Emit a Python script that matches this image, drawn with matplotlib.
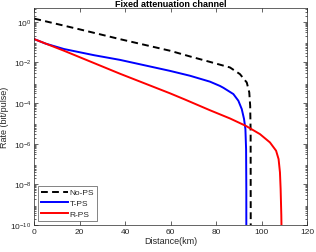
import numpy as np
import matplotlib
matplotlib.use('Agg')
from matplotlib import pyplot as plt
from matplotlib.ticker import LogLocator, NullFormatter

plt.rcParams['font.family'] = ['Liberation Sans', 'DejaVu Sans']

# data (distance in km, rate in bit/pulse)
nops_km = [0, 20, 37.7, 59.7, 68.5, 77.3, 86.1, 90.5, 93.5, 94.6, 95.0, 95.2, 95.25]
nops_rate = [1.41, 0.417, 0.138, 0.0372, 0.0195, 0.0105, 5.6e-3, 2.63e-3, 1.02e-3,
             3.3e-4, 7.2e-5, 3.6e-6, 1e-11]

tps_km = [0, 5, 13.1, 26.3, 37.7, 59.7, 68.5, 77.3, 81.7, 83.2, 87.6, 89.8, 91.3,
          92.3, 92.9, 93.2, 93.3, 93.3]
tps_rate = [0.138, 0.083, 0.045, 0.0224, 0.0132, 3.8e-3, 2.19e-3, 1.12e-3, 6.9e-4,
            5.6e-4, 2.75e-4, 1.29e-4, 5.0e-5, 1.62e-5, 5.2e-6, 5.4e-7, 5.9e-9, 1e-11]

rps_km = [0, 13.1, 37.7, 59.7, 66.3, 77.3, 86.1, 93.2, 99.3, 103.7, 106.4, 107.5,
          108.1, 108.4, 108.7, 108.9]
rps_rate = [0.138, 0.037, 2.75e-3, 3.0e-4, 1.48e-4, 4.4e-5, 1.74e-5, 7.4e-6, 2.95e-6,
            1.15e-6, 4.5e-7, 1.74e-7, 3.9e-8, 5.9e-9, 3e-10, 1e-11]

xticks = [0, 20, 40, 60, 80, 100, 120]
yticks = [1e-10, 1e-8, 1e-6, 1e-4, 1e-2, 1e0]

fig = plt.figure(figsize=(3.16, 2.53), dpi=100)
ax = fig.add_axes([0.1085, 0.1067, 0.863, 0.856])

ax.semilogy(nops_km, nops_rate, color='k', lw=1.4, ls=(0, (3.5, 2.2)), label='No-PS')
ax.semilogy(tps_km, tps_rate, color='b', lw=1.4, label='T-PS')
ax.semilogy(rps_km, rps_rate, color='r', lw=1.4, label='R-PS')

ax.set_xlim(0, 120)
ax.set_ylim(1e-10, 10 ** 0.65)
ax.set_xticks(xticks)
ax.set_yticks(yticks)
ax.yaxis.set_minor_locator(LogLocator(base=10, subs=np.arange(2, 10), numticks=20))
ax.yaxis.set_minor_formatter(NullFormatter())

gray = '#262626'
ax.tick_params(which='both', direction='in', top=True, right=True, labelsize=6,
               colors=gray, labelcolor=gray, width=0.5)
ax.tick_params(which='major', length=3, pad=2)
ax.tick_params(which='minor', length=1.5)
for s in ax.spines.values():
    s.set_color(gray)
    s.set_linewidth(0.5)

ax.set_xlabel('Distance(km)', fontsize=6.5, color=gray, labelpad=1)
ax.set_ylabel('Rate (bit/pulse)', fontsize=6.5, color=gray, labelpad=1)
ax.set_title('Fixed attenuation channel', fontsize=6.5, fontweight='bold', pad=1.5)

leg = ax.legend(loc='lower left', fontsize=6, frameon=True, fancybox=False,
                edgecolor=gray, handlelength=3.2, handletextpad=0.2,
                borderpad=0.35, labelspacing=0.35, borderaxespad=0.5)
leg.get_frame().set_linewidth(0.5)
for t in leg.get_texts():
    t.set_color(gray)

plt.savefig('out.png', dpi=100)
